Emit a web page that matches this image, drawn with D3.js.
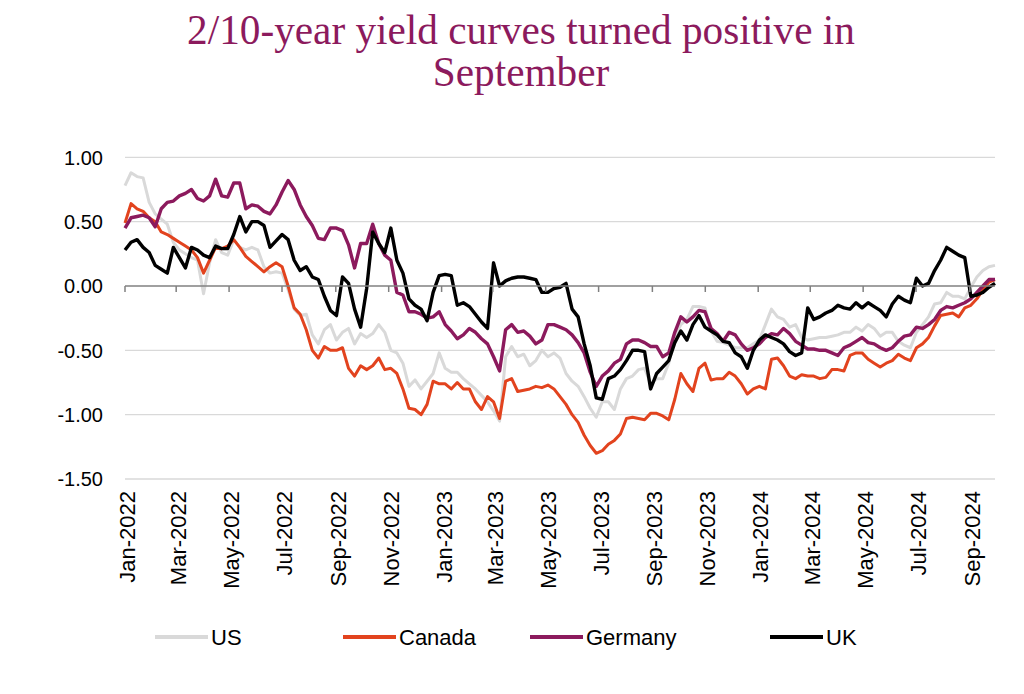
<!DOCTYPE html>
<html><head><meta charset="utf-8">
<script src="https://cdn.jsdelivr.net/npm/d3@7/dist/d3.min.js"></script>
<style>body{margin:0;background:#fff;} svg{display:block}</style>
</head><body>
<svg id="chart" width="1024" height="694"></svg>
<script>
// ---------- data ----------
const titleLines = ["2/10-year yield curves turned positive in", "September"];
const startDate = "2022-01-01";
const endDate = "2024-09-30";
const yTickValues = [1.0, 0.5, 0.0, -0.5, -1.0, -1.5];
const seriesNames = ["US", "Canada", "Germany", "UK"];

const usValues = [0.78,0.88,0.85,0.84,0.65,0.56,0.52,0.48,0.34,0.28,0.25,0.22,0.2,-0.06,0.18,0.36,0.26,0.24,0.36,0.3,0.28,0.3,0.28,0.15,0.1,
0.11,0.1,-0.03,-0.18,-0.23,-0.22,-0.38,-0.45,-0.34,-0.3,-0.42,-0.36,-0.33,-0.45,-0.37,-0.4,-0.37,-0.3,-0.36,-0.5,-0.52,-0.6,-0.78,-0.73,
-0.8,-0.74,-0.68,-0.52,-0.64,-0.67,-0.67,-0.72,-0.76,-0.8,-0.85,-0.9,-0.97,-1.05,-0.55,-0.47,-0.55,-0.53,-0.62,-0.58,-0.5,-0.55,-0.52,-0.56,
-0.68,-0.74,-0.78,-0.86,-0.95,-1.02,-0.9,-0.9,-0.96,-0.8,-0.72,-0.7,-0.65,-0.64,-0.76,-0.72,-0.72,-0.6,-0.4,-0.3,-0.26,-0.16,-0.16,-0.17,
-0.35,-0.43,-0.44,-0.46,-0.48,-0.48,-0.48,-0.45,-0.42,-0.3,-0.18,-0.24,-0.26,-0.32,-0.3,-0.4,-0.42,-0.41,-0.4,-0.4,-0.39,-0.38,-0.36,-0.36,
-0.32,-0.35,-0.3,-0.33,-0.39,-0.36,-0.36,-0.43,-0.46,-0.48,-0.36,-0.3,-0.24,-0.14,-0.13,-0.05,-0.08,-0.08,-0.1,-0.01,0.07,0.12,0.15,0.16];

const canadaValues = [0.49,0.64,0.6,0.58,0.53,0.5,0.42,0.4,0.37,0.34,0.31,0.28,0.22,0.1,0.2,0.3,0.29,0.31,0.36,0.3,0.23,0.19,0.15,0.11,0.15,
0.18,0.15,0.0,-0.17,-0.22,-0.34,-0.5,-0.56,-0.47,-0.5,-0.5,-0.48,-0.64,-0.7,-0.62,-0.65,-0.62,-0.56,-0.65,-0.64,-0.68,-0.8,-0.95,-0.96,
-1.0,-0.92,-0.74,-0.76,-0.76,-0.8,-0.75,-0.8,-0.8,-0.9,-0.96,-0.86,-0.9,-1.03,-0.74,-0.72,-0.82,-0.81,-0.8,-0.78,-0.79,-0.77,-0.8,-0.86,
-0.92,-1.0,-1.06,-1.16,-1.24,-1.3,-1.28,-1.23,-1.2,-1.15,-1.03,-1.02,-1.03,-1.04,-0.99,-0.99,-1.01,-1.04,-0.88,-0.68,-0.76,-0.82,-0.64,-0.6,
-0.73,-0.72,-0.72,-0.67,-0.7,-0.76,-0.84,-0.8,-0.78,-0.8,-0.57,-0.56,-0.62,-0.7,-0.72,-0.69,-0.7,-0.7,-0.72,-0.71,-0.65,-0.65,-0.66,-0.54,
-0.52,-0.52,-0.57,-0.6,-0.63,-0.6,-0.58,-0.53,-0.56,-0.58,-0.48,-0.45,-0.4,-0.31,-0.23,-0.22,-0.21,-0.24,-0.17,-0.15,-0.1,-0.03,0.03,0.05];

const germanyValues = [0.45,0.53,0.54,0.55,0.53,0.46,0.6,0.65,0.66,0.7,0.72,0.75,0.68,0.66,0.7,0.83,0.7,0.69,0.8,0.8,0.6,0.63,0.62,0.58,0.56,
0.63,0.73,0.82,0.75,0.63,0.54,0.47,0.37,0.36,0.45,0.45,0.43,0.32,0.14,0.33,0.33,0.48,0.33,0.24,0.2,-0.05,-0.07,-0.2,-0.2,
-0.22,-0.25,-0.24,-0.2,-0.3,-0.35,-0.41,-0.38,-0.33,-0.36,-0.41,-0.45,-0.55,-0.66,-0.34,-0.3,-0.36,-0.35,-0.39,-0.45,-0.42,-0.3,-0.3,-0.32,
-0.34,-0.38,-0.44,-0.52,-0.67,-0.78,-0.7,-0.66,-0.6,-0.57,-0.45,-0.42,-0.42,-0.44,-0.47,-0.47,-0.55,-0.52,-0.36,-0.24,-0.28,-0.24,-0.19,-0.2,
-0.33,-0.37,-0.43,-0.36,-0.38,-0.45,-0.5,-0.48,-0.45,-0.4,-0.37,-0.38,-0.33,-0.37,-0.43,-0.46,-0.49,-0.49,-0.5,-0.5,-0.52,-0.54,-0.48,-0.46,
-0.43,-0.4,-0.44,-0.45,-0.48,-0.5,-0.48,-0.43,-0.39,-0.38,-0.32,-0.33,-0.3,-0.26,-0.19,-0.16,-0.17,-0.15,-0.13,-0.1,-0.05,0.0,0.05,0.05];

const ukValues = [0.28,0.34,0.36,0.3,0.26,0.16,0.13,0.1,0.3,0.22,0.14,0.3,0.28,0.24,0.22,0.31,0.29,0.29,0.4,0.54,0.42,0.5,0.5,0.47,0.3,
0.35,0.4,0.36,0.2,0.12,0.15,0.07,0.05,-0.08,-0.19,-0.23,0.07,0.02,-0.18,-0.32,-0.02,0.42,0.33,0.26,0.45,0.2,0.1,-0.1,-0.15,
-0.18,-0.27,-0.05,0.08,0.09,0.08,-0.15,-0.13,-0.16,-0.22,-0.28,-0.33,0.18,0.0,0.04,0.06,0.07,0.07,0.06,0.05,-0.05,-0.05,-0.02,-0.01,
0.02,-0.18,-0.24,-0.45,-0.62,-0.87,-0.88,-0.72,-0.7,-0.65,-0.58,-0.5,-0.5,-0.51,-0.8,-0.68,-0.63,-0.58,-0.44,-0.35,-0.42,-0.3,-0.23,-0.32,
-0.35,-0.38,-0.43,-0.44,-0.52,-0.55,-0.64,-0.5,-0.42,-0.38,-0.4,-0.42,-0.45,-0.51,-0.54,-0.52,-0.17,-0.26,-0.24,-0.21,-0.19,-0.15,-0.17,-0.18,
-0.13,-0.17,-0.13,-0.16,-0.19,-0.24,-0.14,-0.08,-0.11,-0.13,0.06,0.0,0.02,0.12,0.2,0.3,0.27,0.24,0.22,-0.08,-0.07,-0.05,-0.01,0.02];

// ---------- styling ----------
const colors = {US: "#d9d9d9", Canada: "#e2431e", Germany: "#8c1a5d", UK: "#000000"};
const widths = {US: 3, Canada: 3, Germany: 3.4, UK: 3.4};
const seriesData = {US: usValues, Canada: canadaValues, Germany: germanyValues, UK: ukValues};

const svg = d3.select("#chart");
const t0 = new Date(startDate + "T00:00:00"), t1 = new Date(endDate + "T00:00:00");
const n = usValues.length;
const dates = d3.range(n).map(i => new Date(+t0 + i * (t1 - t0) / (n - 1)));

const x = d3.scaleTime().domain([t0, t1]).range([125, 995]);
const y = d3.scaleLinear().domain([-1.5, 1.0]).range([479, 157.3]);

// title
const tl = svg.append("g").selectAll("text").data(titleLines).join("text")
  .attr("x", 521).attr("y", (d, i) => 44 + i * 42)
  .attr("text-anchor", "middle")
  .attr("font-family", "'Liberation Serif', 'Times New Roman', serif")
  .attr("font-size", 36)
  .attr("fill", "#8c1a5d")
  .text(d => d);
const w0 = tl.node().getComputedTextLength();
tl.attr("font-size", 36 * 668 / w0);

// gridlines
svg.append("g").selectAll("line").data(yTickValues.filter(v => v !== 0)).join("line")
  .attr("x1", 125).attr("x2", 995)
  .attr("y1", d => y(d)).attr("y2", d => y(d))
  .attr("stroke", "#d9d9d9").attr("stroke-width", 1.3);

// y labels
svg.append("g").selectAll("text").data(yTickValues).join("text")
  .attr("x", 103).attr("y", d => y(d)).attr("dy", "0.36em")
  .attr("text-anchor", "end")
  .attr("font-family", "'Liberation Sans', Arial, sans-serif")
  .attr("font-size", 20).attr("fill", "#000")
  .text(d => d3.format(".2f")(d).replace("−", "-"));

// series lines
const line = d3.line().x((d, i) => x(dates[i])).y(d => y(d));
const linesG = svg.append("g");
seriesNames.forEach(name => {
  linesG.append("path").datum(seriesData[name])
    .attr("d", line).attr("fill", "none")
    .attr("stroke", colors[name]).attr("stroke-width", widths[name])
    .attr("stroke-linejoin", "round");
});

// zero axis with ticks
const xTicks = d3.timeMonth.every(2).range(t0, d3.timeDay.offset(t1, 1));
const axisG = svg.append("g");
axisG.append("line").attr("x1", 125).attr("x2", 995).attr("y1", y(0)).attr("y2", y(0))
  .attr("stroke", "#808080").attr("stroke-width", 1.5);
axisG.selectAll("line.tick").data(xTicks).join("line").attr("class", "tick")
  .attr("x1", d => x(d)).attr("x2", d => x(d))
  .attr("y1", y(0)).attr("y2", y(0) + 6)
  .attr("stroke", "#808080").attr("stroke-width", 1.5);

// x labels
const fmt = d3.timeFormat("%b-%Y");
svg.append("g").selectAll("text").data(xTicks).join("text")
  .attr("transform", d => `translate(${x(d) + 2},491) rotate(-90)`)
  .attr("dy", "0.36em")
  .attr("text-anchor", "end")
  .attr("font-family", "'Liberation Sans', Arial, sans-serif")
  .attr("font-size", 22).attr("fill", "#000")
  .text(d => fmt(d));

// legend
const legendX = {US: 155, Canada: 343, Germany: 530, UK: 770};
const lg = svg.append("g");
seriesNames.forEach(name => {
  lg.append("line").attr("x1", legendX[name]).attr("x2", legendX[name] + 53)
    .attr("y1", 637).attr("y2", 637)
    .attr("stroke", colors[name]).attr("stroke-width", 4);
  lg.append("text").attr("x", legendX[name] + 56).attr("y", 637).attr("dy", "0.36em")
    .attr("font-family", "'Liberation Sans', Arial, sans-serif")
    .attr("font-size", 22).attr("fill", "#000")
    .text(name);
});
</script>
</body></html>
